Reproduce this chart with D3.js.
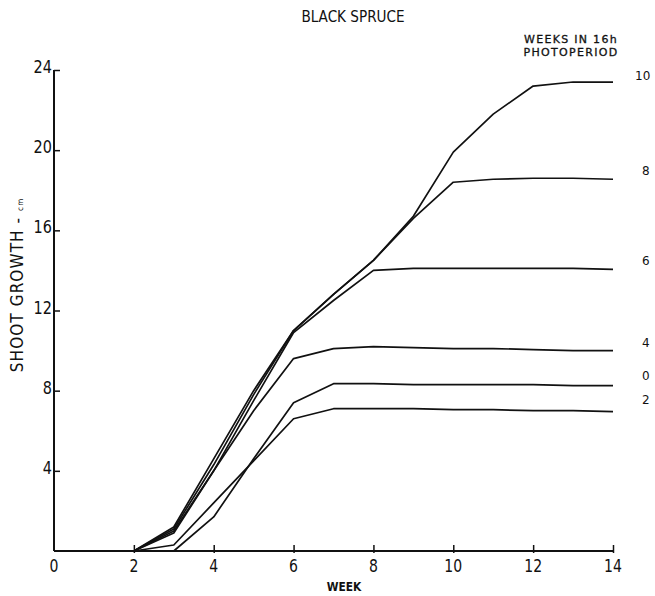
<!DOCTYPE html>
<html><head><meta charset="utf-8">
<script src="https://cdn.jsdelivr.net/npm/d3@7"></script>
<style>
html,body{margin:0;padding:0;background:#fff;}
svg{display:block;}
text{fill:#111;font-family:'DejaVu Sans',sans-serif;}
</style></head>
<body>
<div id="chart"></div>
<script>
const weeks = [0,1,2,3,4,5,6,7,8,9,10,11,12,13,14];
const seriesNames = ["10","8","6","4","0","2"];
const s10 = [0,0,0,1.2,4.6,8.0,11.0,12.8,14.5,16.7,19.9,21.8,23.2,23.4,23.4];
const s8  = [0,0,0,1.1,4.3,7.8,11.0,12.8,14.5,16.6,18.4,18.55,18.6,18.6,18.55];
const s6  = [0,0,0,1.0,4.0,7.5,10.9,12.5,14.0,14.1,14.1,14.1,14.1,14.1,14.05];
const s4  = [0,0,0,0.9,4.0,7.0,9.6,10.1,10.2,10.15,10.1,10.1,10.05,10.0,10.0];
const s0  = [0,0,0,0,1.7,4.6,7.4,8.35,8.35,8.3,8.3,8.3,8.3,8.25,8.25];
const s2  = [0,0,0,0.3,2.4,4.5,6.6,7.1,7.1,7.1,7.05,7.05,7.0,7.0,6.95];
const seriesValues = [s10,s8,s6,s4,s0,s2];
const xTicks = [0,2,4,6,8,10,12,14];
const yTicks = [4,8,12,16,20,24];
const title = "BLACK SPRUCE";
const legendTitle = ["WEEKS IN 16h","PHOTOPERIOD"];
const xLabel = "WEEK";
const yLabel = "SHOOT GROWTH  -  ";
const yUnit = "cm";

const W = 655, H = 596;
const svg = d3.select("#chart").append("svg").attr("width", W).attr("height", H);
const x = d3.scaleLinear().domain([0,14]).range([54,613]);
const y = d3.scaleLinear().domain([0,24]).range([551,70]);

// axes lines
svg.append("line").attr("x1",x(0)).attr("x2",x(0)).attr("y1",y(0)).attr("y2",y(24))
  .attr("stroke","#111").attr("stroke-width",2);
svg.append("line").attr("x1",x(0)).attr("x2",x(14)).attr("y1",y(0)).attr("y2",y(0))
  .attr("stroke","#111").attr("stroke-width",2);

// y ticks
const yAxis = d3.axisRight(y).tickValues(yTicks).tickSize(6).tickFormat("");
const gy = svg.append("g").attr("transform",`translate(${x(0)},0)`).call(yAxis);
gy.select(".domain").remove();
gy.selectAll(".tick line").attr("stroke","#111").attr("stroke-width",1.5);
svg.selectAll(".ylab").data(yTicks).enter().append("text")
  .attr("transform", d=>`translate(${x(0)-2},${y(d)+3}) scale(0.85,1)`)
  .attr("text-anchor","end").style("font-size","17px")
  .text(d=>d);

// x ticks
const xAxis = d3.axisTop(x).tickValues(xTicks.filter(d=>d>0)).tickSize(8).tickFormat("");
const gx = svg.append("g").attr("transform",`translate(0,${y(0)+2})`).call(xAxis);
gx.select(".domain").remove();
gx.selectAll(".tick line").attr("stroke","#111").attr("stroke-width",1.5);
svg.selectAll(".xlab").data(xTicks).enter().append("text")
  .attr("transform", d=>`translate(${x(d)},${y(0)+21}) scale(0.78,1)`)
  .attr("text-anchor","middle").style("font-size","18px")
  .text(d=>d);

// lines
const line = d3.line().x((d,i)=>x(weeks[i])).y(d=>y(d));
svg.selectAll(".series").data(seriesValues).enter().append("path")
  .attr("d", d=>line(d)).attr("fill","none").attr("stroke","#111")
  .attr("stroke-width",1.7).attr("stroke-linejoin","round");

// right labels
svg.selectAll(".rlab").data(seriesNames).enter().append("text")
  .attr("x", (d,i)=> x(14)+ (d==="10"?22:29))
  .attr("y", (d,i)=> y(seriesValues[i][14]) + 4 + (d==="10"?-6:-8) + (d==="2"?-4:0) + (d==="0"?-2:0))
  .attr("text-anchor","start").style("font-size","12px")
  .text(d=>d);

// legend title
svg.selectAll(".lt").data(legendTitle).enter().append("text")
  .attr("x", 571).attr("y",(d,i)=>43+i*13).attr("text-anchor","middle")
  .style("font-size","11px").style("stroke","#111").style("stroke-width","0.3px")
  .style("letter-spacing","1.3px").text(d=>d);

// title
svg.append("text").attr("transform","translate(353,22) scale(0.85,1)").attr("text-anchor","middle")
  .style("font-size","16px").text(title);

// x label
svg.append("text").attr("transform","translate(344,591) scale(0.82,1)").attr("text-anchor","middle")
  .style("font-size","13px").style("font-weight","bold").text(xLabel);

// y label
const yl = svg.append("text").attr("transform","translate(23,285) rotate(-90) scale(0.9,1)")
  .attr("text-anchor","middle").style("font-size","17px").style("letter-spacing","1.2px");
yl.append("tspan").text(yLabel);
yl.append("tspan").style("font-size","8px").text(yUnit);
</script>
</body></html>
